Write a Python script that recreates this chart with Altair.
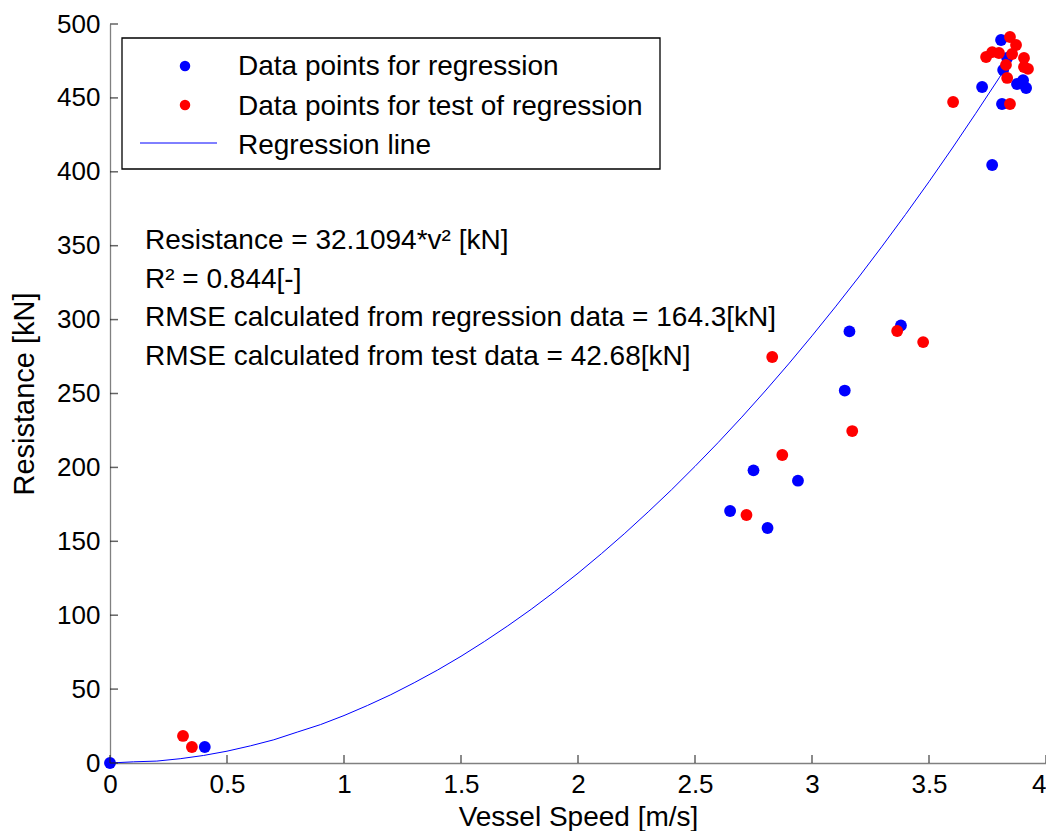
import altair as alt
import pandas as pd

# ---------------- data ----------------
reg_speed = [0.0, 0.405, 2.65, 2.75, 2.81, 2.94, 3.14, 3.16, 3.38,
             3.727, 3.77, 3.808, 3.812, 3.817, 3.834, 3.876, 3.902, 3.915]
reg_res = [0.0, 10.8, 170.5, 198.0, 159.0, 191.0, 252.0, 292.0, 296.0,
           457.4, 404.6, 489.2, 445.9, 468.9, 477.0, 459.4, 462.0, 456.7]

test_speed = [0.312, 0.350, 2.72, 2.873, 2.830, 3.172, 3.364, 3.475, 3.603,
              3.846, 3.834, 3.744, 3.770, 3.799, 3.846, 3.872, 3.855, 3.829,
              3.906, 3.906, 3.923]
test_res = [18.3, 10.8, 167.8, 208.4, 274.7, 224.6, 292.3, 284.8, 447.2,
            445.9, 463.5, 477.7, 481.0, 480.4, 491.2, 485.8, 479.7, 472.3,
            477.0, 470.9, 469.6]

line_speed = [0.0, 0.1, 0.2, 0.3, 0.4, 0.5, 0.6, 0.7, 0.8, 0.9, 1.0, 1.1, 1.2,
              1.3, 1.4, 1.5, 1.6, 1.7, 1.8, 1.9, 2.0, 2.1, 2.2, 2.3, 2.4, 2.5,
              2.6, 2.7, 2.8, 2.9, 3.0, 3.1, 3.2, 3.3, 3.4, 3.5, 3.6, 3.7, 3.8,
              3.89]
line_res = [0.0, 0.8, 1.3, 2.9, 5.1, 8.0, 11.6, 15.7, 20.9, 26.0, 32.1, 38.9,
            46.2, 54.3, 62.9, 72.2, 82.2, 92.8, 104.0, 115.9, 128.4, 141.6,
            155.4, 169.9, 184.9, 200.7, 217.0, 234.0, 251.7, 270.0, 289.0,
            308.6, 328.8, 349.7, 371.2, 393.3, 416.1, 439.6, 463.6, 485.9]

x_ticks = [0, 0.5, 1, 1.5, 2, 2.5, 3, 3.5, 4]
y_ticks = [0, 50, 100, 150, 200, 250, 300, 350, 400, 450, 500]

legend_labels = ["Data points for regression",
                 "Data points for test of regression",
                 "Regression line"]
annotation_lines = ["Resistance = 32.1094*v\u00b2 [kN]",
                    "R\u00b2 = 0.844[-]",
                    "RMSE calculated from regression data = 164.3[kN]",
                    "RMSE calculated from test data = 42.68[kN]"]

# ---------------- tables ----------------
reg_df = pd.DataFrame({"speed": reg_speed, "res": reg_res})
test_df = pd.DataFrame({"speed": test_speed, "res": test_res})
line_df = pd.DataFrame({"speed": line_speed, "res": line_res})
xt_df = pd.DataFrame({"speed": x_ticks})
yt_df = pd.DataFrame({"res": y_ticks})

FONT = "Liberation Sans"
BLUE = "#0000FF"
RED = "#FF0000"
W, H = 936, 739

xscale = alt.Scale(domain=[0, 4], nice=False, zero=False)
yscale = alt.Scale(domain=[0, 500], nice=False)

xaxis = alt.Axis(values=x_ticks, format="~g", title="Vessel Speed [m/s]",
                 grid=False, tickSize=0, labelPadding=8, titlePadding=6,
                 titleFontSize=28, labelFlush=False,
                 labelAlign=alt.expr("datum.value >= 4 ? 'right' : 'center'"))
yaxis = alt.Axis(values=y_ticks, title="Resistance [kN]", grid=False,
                 tickSize=0, labelPadding=10, titlePadding=17,
                 titleFontSize=29, labelFlush=False)

X = alt.X("speed:Q", scale=xscale, axis=xaxis)
Y = alt.Y("res:Q", scale=yscale, axis=yaxis)

line = alt.Chart(line_df).mark_line(color=BLUE, strokeWidth=1).encode(
    x=X, y=Y, order="speed:Q")
reg_pts = alt.Chart(reg_df).mark_circle(color=BLUE, size=140, opacity=1).encode(x=X, y=Y)
test_pts = alt.Chart(test_df).mark_circle(color=RED, size=140, opacity=1).encode(x=X, y=Y)

xt = alt.Chart(xt_df).mark_tick(orient="vertical", size=8, thickness=1.5,
                                color="#222222").encode(
    x=alt.X("speed:Q", scale=xscale), y=alt.value(H - 4))
yt = alt.Chart(yt_df).mark_tick(orient="horizontal", size=8, thickness=1.5,
                                color="#222222").encode(
    y=alt.Y("res:Q", scale=yscale), x=alt.value(4))

# legend box drawn by hand (MATLAB-style)
base = alt.Chart(pd.DataFrame({"k": [0]}))
box = base.mark_rect(fill="white", stroke="black", strokeWidth=1.3).encode(
    x=alt.value(12), x2=alt.value(550), y=alt.value(14), y2=alt.value(145))
leg_blue = base.mark_circle(color=BLUE, size=110, opacity=1).encode(
    x=alt.value(75), y=alt.value(42))
leg_red = base.mark_circle(color=RED, size=110, opacity=1).encode(
    x=alt.value(75), y=alt.value(81))
leg_line = base.mark_rule(color=BLUE, strokeWidth=1).encode(
    x=alt.value(30), x2=alt.value(107), y=alt.value(119))
leg_text = base.mark_text(align="left", baseline="alphabetic", font=FONT,
                          fontSize=28, lineHeight=39.5, color="black").encode(
    x=alt.value(128), y=alt.value(51), text=alt.value(legend_labels))

ann = base.mark_text(align="left", baseline="alphabetic", font=FONT,
                     fontSize=28, lineHeight=38.5, color="black").encode(
    x=alt.value(35), y=alt.value(225), text=alt.value(annotation_lines))

chart = alt.layer(
    line, reg_pts, test_pts, xt, yt, box, leg_blue, leg_red, leg_line,
    leg_text, ann
).properties(
    width=W, height=H,
    autosize=alt.AutoSizeParams(type="none"),
    padding={"left": 102, "top": 16, "right": 0, "bottom": 68},
    background="white",
).configure_view(
    strokeWidth=0
).configure_axis(
    labelFont=FONT, titleFont=FONT, labelFontSize=26,
    titleFontWeight="normal", labelColor="black", titleColor="black",
    domainColor="#808080", domainWidth=1.3,
)

chart.save("out.html", embed_options={"renderer": "svg", "actions": False})
